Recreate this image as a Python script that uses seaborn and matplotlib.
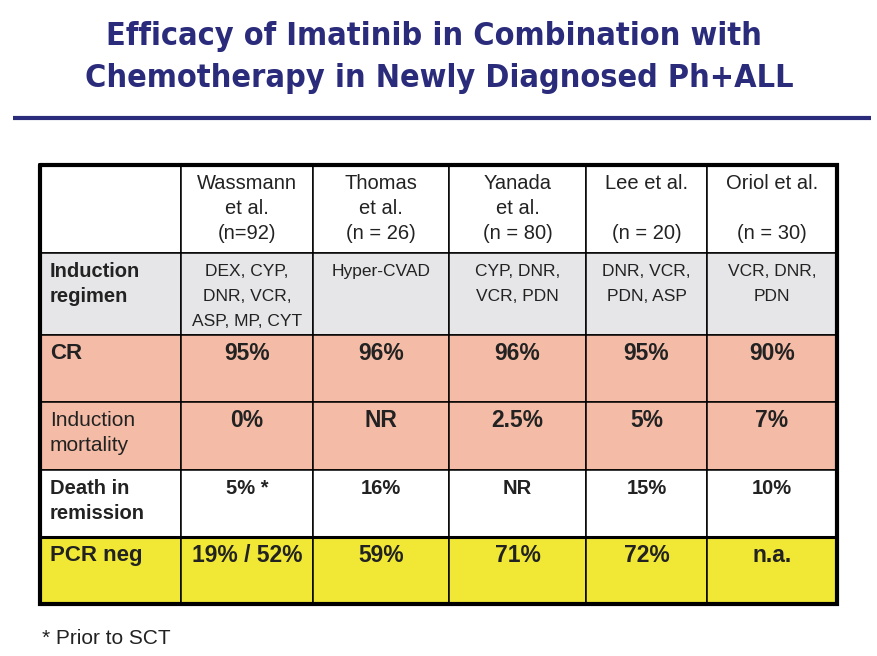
import matplotlib.pyplot as plt
from matplotlib import font_manager
import seaborn as sns

# Efficacy table: imatinib + chemotherapy in newly diagnosed Ph+ ALL

title_lines = ["Efficacy of Imatinib in Combination with",
               "Chemotherapy in Newly Diagnosed Ph+ALL"]

studies = [["Wassmann", "et al.", "(n=92)"],
           ["Thomas", "et al.", "(n = 26)"],
           ["Yanada", "et al.", "(n = 80)"],
           ["Lee et al.", "", "(n = 20)"],
           ["Oriol et al.", "", "(n = 30)"]]

row_labels = [["Induction", "regimen"], ["CR"], ["Induction", "mortality"],
              ["Death in", "remission"], ["PCR neg"]]

regimen = [["DEX, CYP,", "DNR, VCR,", "ASP, MP, CYT"], ["Hyper-CVAD"],
           ["CYP, DNR,", "VCR, PDN"], ["DNR, VCR,", "PDN, ASP"], ["VCR, DNR,", "PDN"]]
cr = ["95%", "96%", "96%", "95%", "90%"]
mortality = ["0%", "NR", "2.5%", "5%", "7%"]
death = ["5% *", "16%", "NR", "15%", "10%"]
pcr_neg = ["19% / 52%", "59%", "71%", "72%", "n.a."]

footnote = "* Prior to SCT"

# layout (pixels)
col_edges = [40, 181, 313, 449, 586, 707, 837]
row_edges = [165, 253, 335, 402, 470, 537, 604]
row_colors = ["white", "#e6e6e8", "#f4bca6", "#f4bca6", "white", "#f0e834"]
navy = "#2b2b7c"
ink = "#222222"

sns.set_theme(style="white")
plt.rcParams['font.family'] = ['Liberation Sans', 'DejaVu Sans']

installed = {f.name for f in font_manager.fontManager.ttflist}
if 'Liberation Sans Narrow' in installed:
    reg_font = dict(family=['Liberation Sans Narrow', 'Liberation Sans'], fontsize=15)
else:
    reg_font = dict(fontsize=12.5)

fig = plt.figure(figsize=(8.78, 6.56), dpi=100)
ax = fig.add_axes([0, 0, 1, 1])
ax.set_xlim(0, 878)
ax.set_ylim(656, 0)
ax.axis('off')

lefts = col_edges[:-1]
widths = [b - a for a, b in zip(col_edges[:-1], col_edges[1:])]
centers = [(a + b) / 2 for a, b in zip(col_edges[:-1], col_edges[1:])]

# cells
for r in range(len(row_edges) - 1):
    top, bot = row_edges[r], row_edges[r + 1]
    ax.barh([(top + bot) / 2] * len(lefts), widths, left=lefts, height=bot - top,
            color=row_colors[r], edgecolor='black', linewidth=1.1, zorder=1)

# heavier rules
ax.hlines(row_edges[5], col_edges[0], col_edges[-1], color='black', lw=2.2, zorder=3)
ax.plot([col_edges[0], col_edges[-1], col_edges[-1], col_edges[0], col_edges[0]],
        [row_edges[0], row_edges[0], row_edges[-1], row_edges[-1], row_edges[0]],
        color='black', lw=3.0, zorder=4, solid_joinstyle='miter')


def line_y(top, i):
    return top + 18.5 + 25 * i


# header
for c, lines in enumerate(studies):
    for i, s in enumerate(lines):
        ax.text(centers[c + 1], line_y(row_edges[0], i), s, ha='center', va='center',
                fontsize=14.5, color=ink)

# row labels
label_style = [dict(fontsize=14.5, fontweight='bold'), dict(fontsize=16, fontweight='bold'),
               dict(fontsize=15, fontweight='normal'), dict(fontsize=14.5, fontweight='bold'),
               dict(fontsize=16, fontweight='bold')]
for r, lines in enumerate(row_labels):
    for i, s in enumerate(lines):
        ax.text(50, line_y(row_edges[r + 1], i), s, ha='left', va='center',
                color=ink, **label_style[r])

# values
for c, lines in enumerate(regimen):
    for i, s in enumerate(lines):
        ax.text(centers[c + 1], line_y(row_edges[1], i), s, ha='center', va='center',
                color=ink, **reg_font)

value_rows = [(cr, 2, 16.5), (mortality, 3, 16.5), (death, 4, 14.5), (pcr_neg, 5, 16.5)]
for vals, r, fs in value_rows:
    for c, s in enumerate(vals):
        ax.text(centers[c + 1], line_y(row_edges[r], 0), s, ha='center', va='center',
                fontsize=fs, fontweight='bold', color=ink)

# title
t1 = ax.text(433.5, 37, title_lines[0], ha='center', va='center', fontsize=22,
             fontweight='bold', color=navy, family=['DejaVu Sans'], fontstretch='condensed')
t2 = ax.text(439, 79, title_lines[1], ha='center', va='center', fontsize=22,
             fontweight='bold', color=navy, family=['DejaVu Sans'], fontstretch='condensed')
fig.canvas.draw()
rend = fig.canvas.get_renderer()
w2 = t2.get_window_extent(rend).width
fs = 22 * 706 / w2
t1.set_fontsize(fs)
t2.set_fontsize(fs)

ax.hlines(118, 13, 871, color=navy, lw=3.0)

ax.text(42, 638, footnote, ha='left', va='center', fontsize=15, color=ink)

plt.savefig("out.png", dpi=100)
